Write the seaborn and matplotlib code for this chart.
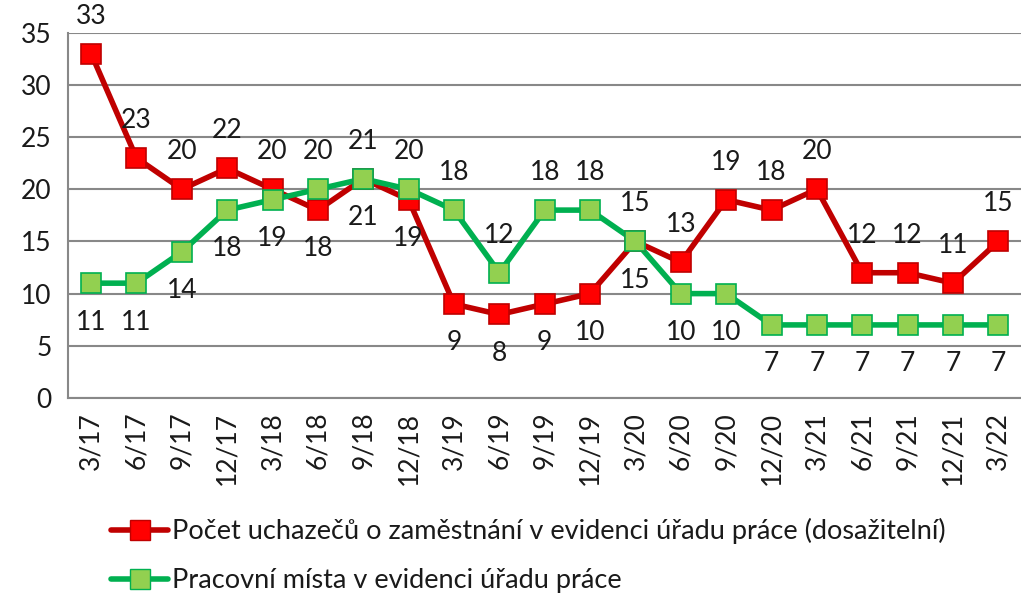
import matplotlib
matplotlib.use("Agg")
import matplotlib.pyplot as plt
import seaborn as sns
import pandas as pd
import numpy as np

periods = ["3/17", "6/17", "9/17", "12/17", "3/18", "6/18", "9/18", "12/18",
           "3/19", "6/19", "9/19", "12/19", "3/20", "6/20", "9/20", "12/20",
           "3/21", "6/21", "9/21", "12/21", "3/22"]
uchazeci = [33, 23, 20, 22, 20, 18, 21, 19, 9, 8, 9, 10, 15, 13, 19, 18, 20, 12, 12, 11, 15]
mista = [11, 11, 14, 18, 19, 20, 21, 20, 18, 12, 18, 18, 15, 10, 10, 7, 7, 7, 7, 7, 7]

name_u = "Počet uchazečů o zaměstnání v evidenci úřadu práce (dosažitelní)"
name_m = "Pracovní místa v evidenci úřadu práce"

sns.set_theme(style="white")
plt.rcParams["font.family"] = ["Lato", "DejaVu Sans"]
FS = 19
TXT = "#1a1a1a"

df = pd.DataFrame({"x": np.arange(len(periods)), name_u: uchazeci, name_m: mista})
long = df.melt(id_vars="x", var_name="serie", value_name="hodnota")

fig, ax = plt.subplots(figsize=(10.21, 5.94), dpi=100)
fig.subplots_adjust(left=0.067, right=1.0, top=0.945, bottom=0.33)

palette = {name_u: "#c00000", name_m: "#00b050"}
face = {name_u: "#ff0000", name_m: "#92d050"}
sns.lineplot(data=long, x="x", y="hodnota", hue="serie", palette=palette,
             linewidth=4, ax=ax, legend=False)
for s in [name_u, name_m]:
    d = long[long.serie == s]
    ax.plot(d.x, d.hodnota, linestyle="none", marker="s", markersize=14,
            markerfacecolor=face[s], markeredgecolor=palette[s], markeredgewidth=1.2,
            label=s)

# labels: higher value above, lower below
for i, (u, m) in enumerate(zip(uchazeci, mista)):
    hi, lo = (u, m) if u >= m else (m, u)
    ax.annotate(str(hi), (i, hi), xytext=(0, 27), textcoords="offset points",
                ha="center", va="center", fontsize=FS, color=TXT)
    ax.annotate(str(lo), (i, lo), xytext=(0, -28), textcoords="offset points",
                ha="center", va="center", fontsize=FS, color=TXT)

ax.set_ylim(0, 35)
ax.set_yticks(range(0, 36, 5))
ax.set_xlim(-0.5, len(periods) - 0.5)
ax.set_xticks(np.arange(len(periods)))
ax.set_xticklabels(periods, rotation=90, fontsize=FS, color=TXT)
ax.set_xticks(np.arange(len(periods) + 1) - 0.5, minor=True)
ax.tick_params(axis="x", which="major", length=0, pad=10)
ax.tick_params(axis="x", which="minor", length=7, width=1.5, color="#888888")
ax.tick_params(axis="y", length=7, width=1.5, color="#888888", labelsize=FS,
               labelcolor=TXT, pad=5)
ax.yaxis.grid(True, color="#888888", linewidth=1.5)
ax.set_xlabel("")
ax.set_ylabel("")
for side in ["top", "right"]:
    ax.spines[side].set_visible(False)
for side in ["left", "bottom"]:
    ax.spines[side].set_color("#888888")
    ax.spines[side].set_linewidth(1.5)

handles = [
    plt.Line2D([], [], color=palette[s], linewidth=4, marker="s", markersize=14,
               markerfacecolor=face[s], markeredgecolor=palette[s])
    for s in [name_u, name_m]
]
fig.legend(handles, [name_u, name_m], loc="lower left", bbox_to_anchor=(0.085, -0.04),
           ncol=1, frameon=False, fontsize=19.5, handlelength=2.1, handletextpad=0.15,
           labelspacing=0.9, labelcolor=TXT)

fig.savefig("out.png", dpi=100)
